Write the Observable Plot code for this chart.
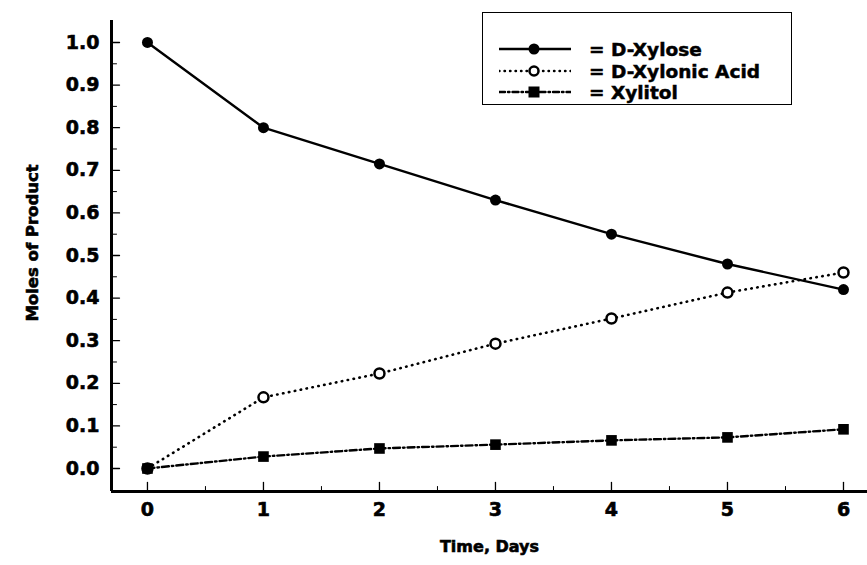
<!DOCTYPE html>
<html><head><meta charset="utf-8">
<script src="https://cdn.jsdelivr.net/npm/d3@7"></script>
<script src="https://cdn.jsdelivr.net/npm/@observablehq/plot@0.6"></script>
<style>
body{margin:0;background:#fff;}
#chart{position:relative;width:867px;height:565px;}
#chart svg text{stroke:#000;stroke-width:0.6px;paint-order:stroke;}
#legend{position:absolute;left:482px;top:12px;width:310px;height:93px;border:1.5px solid #000;box-sizing:border-box;background:#fff;font-family:"DejaVu Sans";font-weight:bold;font-size:18.5px;color:#000;-webkit-text-stroke:0.5px #000;}
.row{position:absolute;left:16px;height:22px;display:flex;align-items:center;white-space:nowrap;}
.row svg{margin-right:18px;}
</style></head><body><div id="chart"></div>
<script>
const days = [0, 1, 2, 3, 4, 5, 6];
const xylose = [1.0, 0.80, 0.715, 0.63, 0.55, 0.48, 0.42];
const xylonic = [0, 0.167, 0.223, 0.293, 0.352, 0.413, 0.46];
const xylitol = [0, 0.028, 0.047, 0.056, 0.066, 0.073, 0.092];
const seriesNames = ["D-Xylose", "D-Xylonic Acid", "Xylitol"];
const yTicks = [0, 0.1, 0.2, 0.3, 0.4, 0.5, 0.6, 0.7, 0.8, 0.9, 1.0];
const yMinor = [0.05, 0.15, 0.25, 0.35, 0.45, 0.55, 0.65, 0.75, 0.85, 0.95];
const xTicks = [0, 1, 2, 3, 4, 5, 6];
const xMinor = [0.5, 1.5, 2.5, 3.5, 4.5, 5.5];
const xTitle = "Time, Days";
const yTitle = "Moles of Product";

const xDomain = [-0.31, 6.207];
const yDomain = [-0.054, 1.0516];

const rows = (vals) => days.map((d, i) => ({day: d, v: vals[i]}));
const dXylose = rows(xylose), dXylonic = rows(xylonic), dXylitol = rows(xylitol);

const tickShape = {draw(ctx, l) { ctx.moveTo(0, 0); ctx.lineTo(0, -l); }};
const font = {fontFamily: "DejaVu Sans", fontWeight: "bold"};

const plot = Plot.plot({
  width: 867, height: 565,
  marginLeft: 111, marginRight: 0, marginTop: 20, marginBottom: 74,
  style: {fontFamily: "DejaVu Sans", fontWeight: "bold", fontSize: "19px", color: "#000", background: "#fff"},
  x: {domain: xDomain, axis: null},
  y: {domain: yDomain, axis: null},
  marks: [
    Plot.axisX({ticks: xTicks, tickSize: 0, tickPadding: 11, tickFormat: d => String(d), label: null, fontSize: 19, ...font}),
    Plot.axisY({ticks: yTicks, tickSize: 0, tickPadding: 12, tickFormat: d => d.toFixed(1), label: null, fontSize: 19, ...font}),
    // inward ticks
    Plot.vector(yTicks, {x: xDomain[0], y: d => d, rotate: 90, length: 8, anchor: "start", shape: tickShape, strokeWidth: 1.3}),
    Plot.vector(yMinor, {x: xDomain[0], y: d => d, rotate: 90, length: 5, anchor: "start", shape: tickShape, strokeWidth: 1}),
    Plot.vector(xTicks, {x: d => d, y: yDomain[0], rotate: 0, length: 9, anchor: "start", shape: tickShape, strokeWidth: 1.3}),
    Plot.vector(xMinor, {x: d => d, y: yDomain[0], rotate: 0, length: 5, anchor: "start", shape: tickShape, strokeWidth: 1}),
    Plot.ruleX([xDomain[0]], {strokeWidth: 3}),
    Plot.ruleY([yDomain[0]], {strokeWidth: 3}),
    // series lines
    Plot.line(dXylose, {x: "day", y: "v", stroke: "#000", strokeWidth: 2.4}),
    Plot.line(dXylonic, {x: "day", y: "v", stroke: "#000", strokeWidth: 2.6, strokeDasharray: "0.5,5.5", strokeLinecap: "round"}),
    Plot.line(dXylitol, {x: "day", y: "v", stroke: "#000", strokeWidth: 2.4, strokeDasharray: "7,3,1.5,3"}),
    // markers
    Plot.dot(dXylose, {x: "day", y: "v", r: 5.5, fill: "#000"}),
    Plot.dot(dXylonic, {x: "day", y: "v", r: 5, fill: "#fff", stroke: "#000", strokeWidth: 2.5}),
    Plot.dot(dXylitol, {x: "day", y: "v", r: 6, symbol: "square", fill: "#000"}),
    // titles
    Plot.text([xTitle], {frameAnchor: "bottom", dy: 60, text: d => d, fontSize: 16, ...font}),
    Plot.text([yTitle], {frameAnchor: "left", textAnchor: "middle", dx: -79, dy: -13, rotate: -90, text: d => d, fontSize: 16.5, ...font})
  ]
});

const chart = document.getElementById("chart");
chart.appendChild(plot);

// legend
const legend = document.createElement("div");
legend.id = "legend";
const styles = [
  {dash: null, marker: "fill-circle"},
  {dash: "0.5,5", marker: "open-circle"},
  {dash: "6,3,1.5,3", marker: "square"}
];
const rowTops = [25, 47, 68];
seriesNames.forEach((name, i) => {
  const row = document.createElement("div");
  row.className = "row";
  row.style.top = rowTops[i] + "px";
  const s = styles[i];
  let mk;
  if (s.marker === "fill-circle") mk = `<circle cx="35" cy="11" r="5.5" fill="#000"/>`;
  else if (s.marker === "open-circle") mk = `<circle cx="35" cy="11" r="4.5" fill="#fff" stroke="#000" stroke-width="2.5"/>`;
  else mk = `<rect x="29.5" y="5.5" width="11" height="11" fill="#000"/>`;
  row.innerHTML = `<svg width="72" height="22"><line x1="0" y1="11" x2="72" y2="11" stroke="#000" stroke-width="2.4" ${s.dash ? `stroke-dasharray="${s.dash}" stroke-linecap="round"` : ""}/>${mk}</svg><span>= ${name}</span>`;
  legend.appendChild(row);
});
chart.appendChild(legend);
</script>
</body></html>
